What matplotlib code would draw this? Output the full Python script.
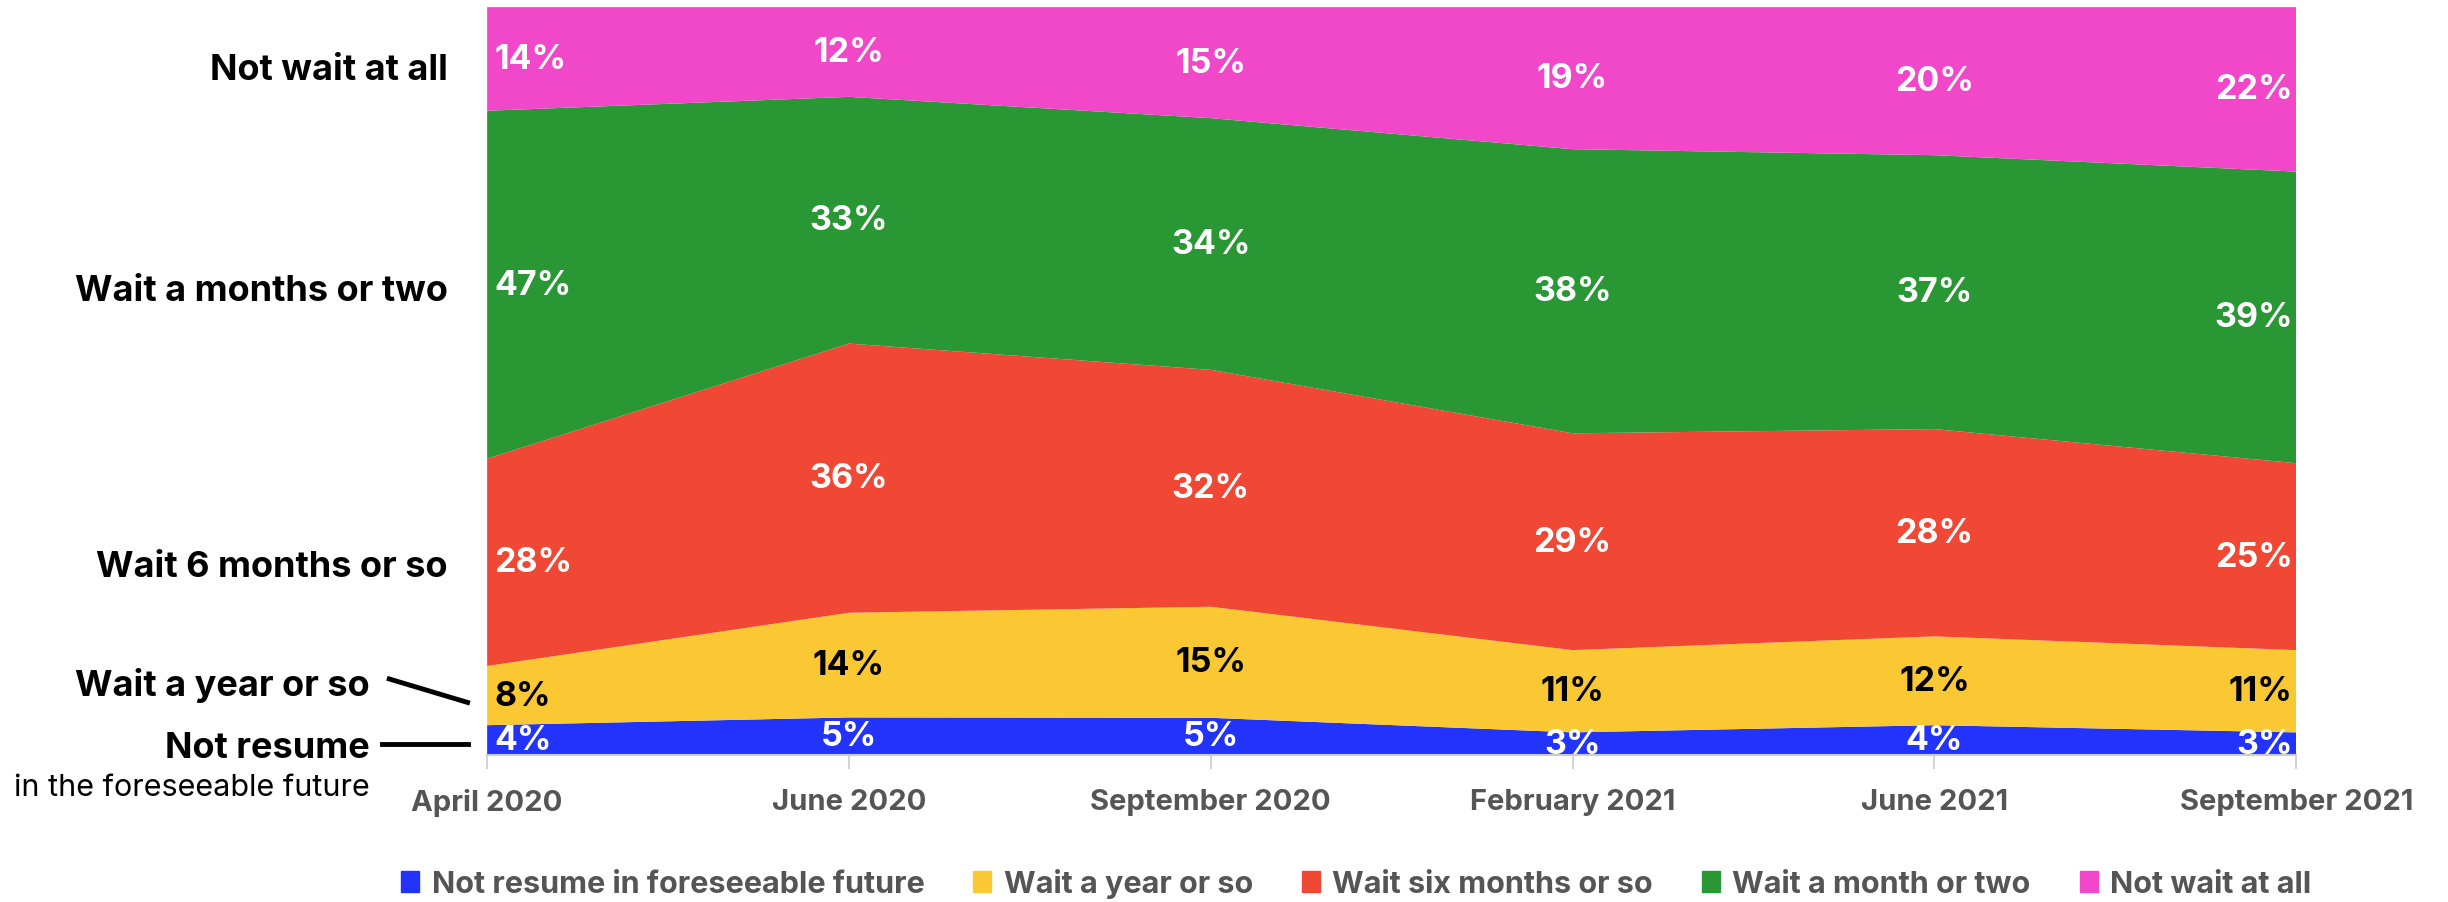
"""
Stacked area chart: how long people would wait before resuming an activity.
"""

import numpy as np
import matplotlib.pyplot as plt
import matplotlib.patches as mpatches

# ============================================================================
# Data
# ============================================================================

periods = ['April 2020', 'June 2020', 'September 2020',
           'February 2021', 'June 2021', 'September 2021']

not_resume = [4, 5, 5, 3, 4, 3]
wait_year = [8, 14, 15, 11, 12, 11]
wait_six_months = [28, 36, 32, 29, 28, 25]
wait_month = [47, 33, 34, 38, 37, 39]
not_wait = [14, 12, 15, 19, 20, 22]

series_names = ['Not resume in foreseeable future', 'Wait a year or so',
                'Wait six months or so', 'Wait a month or two',
                'Not wait at all']
colors = ['#2233fb', '#f9c833', '#f04835', '#2a9735', '#f048c8']
label_colors = ['white', 'black', 'white', 'white', 'white']

# ============================================================================
# Plotting
# ============================================================================

plt.rcParams['font.family'] = ['Inter', 'DejaVu Sans']

series = np.array([not_resume, wait_year, wait_six_months, wait_month,
                   not_wait], dtype=float)
# the chart is a 100% stack
shares = series / series.sum(axis=0) * 100
x = np.arange(len(periods))

fig = plt.figure(figsize=(24.48, 9.03), dpi=100)
ax = fig.add_axes([0.199, 0.163, 0.739, 0.828])
ax.stackplot(x, shares, colors=colors, linewidth=0)

ax.set_xlim(0, len(periods) - 1)
ax.set_ylim(0, 100)
ax.set_yticks([])
ax.set_xticks(x)
ax.set_xticklabels(periods, fontsize=21, fontweight='bold', color='#555555')
ax.tick_params(axis='x', length=10, width=1.2, color='#cccccc', pad=14)
for side in ['left', 'right', 'top']:
    ax.spines[side].set_visible(False)
ax.spines['bottom'].set_color('#cccccc')
ax.spines['bottom'].set_linewidth(1.5)

# percent labels in the middle of each band
bottoms = np.vstack([np.zeros(len(x)), np.cumsum(shares, axis=0)[:-1]])
for i in range(len(series)):
    for j in range(len(x)):
        ymid = bottoms[i, j] + shares[i, j] / 2
        if j == 0:
            ha, xp = 'left', x[j] + 0.02
        elif j == len(x) - 1:
            ha, xp = 'right', x[j] - 0.01
        else:
            ha, xp = 'center', x[j]
        ax.text(xp, ymid, '%d%%' % series[i, j], ha=ha, va='center',
                fontsize=24.5, fontweight='bold', color=label_colors[i])

# labels down the left side
side_labels = [('Not wait at all', 0.922),
               ('Wait a months or two', 0.677),
               ('Wait 6 months or so', 0.371)]
for text, y in side_labels:
    fig.text(0.183, y, text, ha='right', va='center', fontsize=26,
             fontweight='bold', color='black')

fig.text(0.151, 0.241, 'Wait a year or so', ha='right', va='center',
         fontsize=26, fontweight='bold', color='black')
fig.add_artist(plt.Line2D([0.159, 0.191], [0.247, 0.221], color='black',
                          linewidth=3.5))
fig.text(0.151, 0.171, 'Not resume', ha='right', va='center',
         fontsize=26, fontweight='bold', color='black')
fig.add_artist(plt.Line2D([0.156, 0.191], [0.175, 0.175], color='black',
                          linewidth=3.5))
fig.text(0.151, 0.127, 'in the foreseeable future', ha='right',
         va='center', fontsize=22, color='black')

# legend
handles = [mpatches.Patch(color=c, label=n)
           for c, n in zip(colors, series_names)]
leg = fig.legend(handles=handles, loc='center', ncol=5,
                 bbox_to_anchor=(0.554, 0.021), frameon=False,
                 handlelength=0.6, handleheight=0.7, handletextpad=0.4,
                 columnspacing=1.6, prop={'size': 22, 'weight': 'bold'})
for t in leg.get_texts():
    t.set_color('#555555')

fig.savefig('out.png', dpi=100)
